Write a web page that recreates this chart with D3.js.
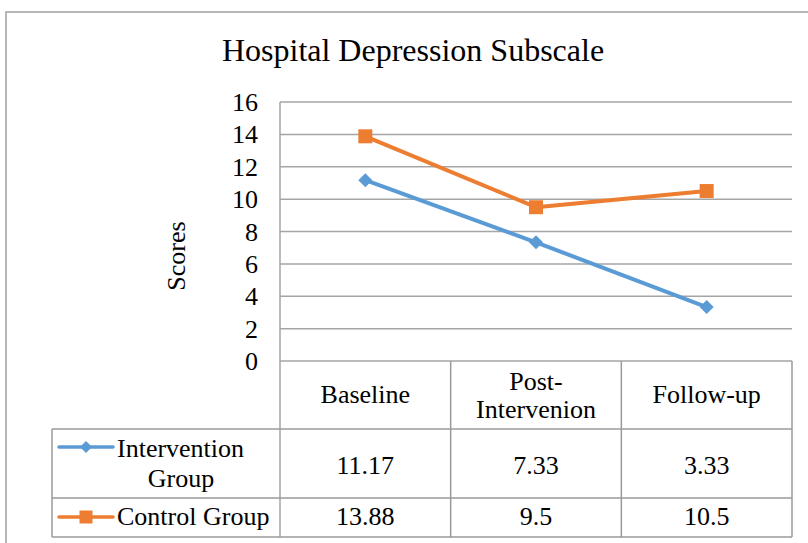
<!DOCTYPE html>
<html>
<head>
<meta charset="utf-8">
<script src="https://cdn.jsdelivr.net/npm/d3@7"></script>
<style>
  html, body { margin: 0; padding: 0; background: #fff; }
  svg { display: block; }
  svg text { font-family: "Liberation Serif", "Times New Roman", serif; fill: #000; }
</style>
</head>
<body>
<svg id="chart" width="808" height="543"></svg>
<script>
// Data
const categories = ["Baseline", "Post-\nIntervenion", "Follow-up"];
const seriesNames = ["Intervention Group", "Control Group"];
const interventionValues = [11.17, 7.33, 3.33];
const controlValues = [13.88, 9.5, 10.5];
const valueLabels = [["11.17", "7.33", "3.33"], ["13.88", "9.5", "10.5"]];
const yTicks = [0, 2, 4, 6, 8, 10, 12, 14, 16];

const series = [
  { name: seriesNames[0], values: interventionValues, labels: valueLabels[0], color: "#5b9bd5", marker: "diamond" },
  { name: seriesNames[1], values: controlValues, labels: valueLabels[1], color: "#ed7d31", marker: "square" }
];

const svg = d3.select("#chart");
const plot = { left: 280, right: 792, top: 102, bottom: 361 };
const gridColor = "#a5a5a5";
const tableColor = "#9a9a9a";
const FS = 26;

// marker shapes: a square, or a square turned 45 degrees
function markerPath(kind, span) {
  if (kind === "square") return d3.symbol().type(d3.symbolSquare).size(span * span)();
  const side = span / Math.SQRT2;
  return d3.symbol().type(d3.symbolSquare).size(side * side)();
}
function markerRotate(kind) { return kind === "square" ? "" : " rotate(45)"; }

// outer chart frame
svg.append("path")
  .attr("d", "M6,543 L6,12 L808,12")
  .attr("fill", "none").attr("stroke", "#a0a0a0").attr("stroke-width", 1.5);

// title
svg.append("text")
  .attr("x", 413).attr("y", 61)
  .attr("text-anchor", "middle")
  .attr("font-size", 32)
  .text("Hospital Depression Subscale");

const x = d3.scaleBand().domain(d3.range(categories.length)).range([plot.left, plot.right]);
const y = d3.scaleLinear().domain([0, 16]).range([plot.bottom, plot.top]);
const cx = i => x(i) + x.bandwidth() / 2;

// horizontal gridlines
svg.append("g").selectAll("line").data(yTicks).join("line")
  .attr("x1", plot.left).attr("x2", plot.right)
  .attr("y1", d => y(d)).attr("y2", d => y(d))
  .attr("stroke", gridColor).attr("stroke-width", 1.5);

// y axis
const yAxis = svg.append("g")
  .attr("transform", `translate(${plot.left},0)`)
  .call(d3.axisLeft(y).tickValues(yTicks).tickSize(0).tickPadding(22).tickFormat(d3.format("d")));
yAxis.attr("font-family", null).attr("font-size", null);
yAxis.select(".domain").remove();
yAxis.selectAll("text")
  .attr("font-size", FS).attr("fill", "#000").attr("dy", "0.33em");

// left axis line continuing through the table header
svg.append("line")
  .attr("x1", plot.left).attr("x2", plot.left)
  .attr("y1", plot.top).attr("y2", 537)
  .attr("stroke", gridColor).attr("stroke-width", 1.5);

// y axis title
svg.append("text")
  .attr("transform", "translate(185,256) rotate(-90)")
  .attr("text-anchor", "middle")
  .attr("font-size", FS)
  .text("Scores");

// data table
const rows = [361, 429, 498, 537];
const tableLeft = 52;
const tg = svg.append("g");
x.domain().forEach(i => {
  tg.append("line")
    .attr("x1", x(i) + x.bandwidth()).attr("x2", x(i) + x.bandwidth())
    .attr("y1", rows[0]).attr("y2", rows[3])
    .attr("stroke", tableColor).attr("stroke-width", 1.5);
});
rows.slice(1).forEach(r => {
  tg.append("line").attr("x1", tableLeft).attr("x2", plot.right).attr("y1", r).attr("y2", r)
    .attr("stroke", tableColor).attr("stroke-width", 1.5);
});
tg.append("line").attr("x1", tableLeft).attr("x2", tableLeft).attr("y1", rows[1]).attr("y2", rows[3])
  .attr("stroke", tableColor).attr("stroke-width", 1.5);

// category headers
categories.forEach((c, i) => {
  const parts = c.split("\n");
  const t = tg.append("text").attr("text-anchor", "middle").attr("font-size", FS);
  if (parts.length === 1) {
    t.attr("x", cx(i)).attr("y", 403).text(parts[0]);
  } else {
    t.append("tspan").attr("x", cx(i)).attr("y", 390).text(parts[0]);
    t.append("tspan").attr("x", cx(i)).attr("y", 418).text(parts[1]);
  }
});

// value cells
const rowText = [474, 525];
series.forEach((s, si) => {
  s.labels.forEach((lab, i) => {
    tg.append("text")
      .attr("x", cx(i)).attr("y", rowText[si])
      .attr("text-anchor", "middle").attr("font-size", FS)
      .text(lab);
  });
});

// legend keys inside the table
const keyY = [447, 517];
series.forEach((s, si) => {
  tg.append("line").attr("x1", 59).attr("x2", 113).attr("y1", keyY[si]).attr("y2", keyY[si])
    .attr("stroke", s.color).attr("stroke-width", 3.5).attr("stroke-linecap", "round");
  tg.append("path")
    .attr("transform", `translate(86,${keyY[si]})` + markerRotate(s.marker))
    .attr("d", markerPath(s.marker, s.marker === "square" ? 13 : 12))
    .attr("fill", s.color);
});
tg.append("text").attr("x", 117).attr("y", 457).attr("font-size", FS).text("Intervention");
tg.append("text").attr("x", 181).attr("y", 487).attr("text-anchor", "middle").attr("font-size", FS).text("Group");
tg.append("text").attr("x", 117).attr("y", 525).attr("font-size", FS).text("Control Group");

// series lines and markers
const line = d3.line().x((d, i) => cx(i)).y(d => y(d));
series.forEach(s => {
  svg.append("path")
    .datum(s.values)
    .attr("d", line)
    .attr("fill", "none")
    .attr("stroke", s.color)
    .attr("stroke-width", 4)
    .attr("stroke-linejoin", "round");
  svg.append("g").selectAll("path").data(s.values).join("path")
    .attr("transform", (d, i) => `translate(${cx(i)},${y(d)})` + markerRotate(s.marker))
    .attr("d", markerPath(s.marker, 14))
    .attr("fill", s.color);
});
</script>
</body>
</html>
